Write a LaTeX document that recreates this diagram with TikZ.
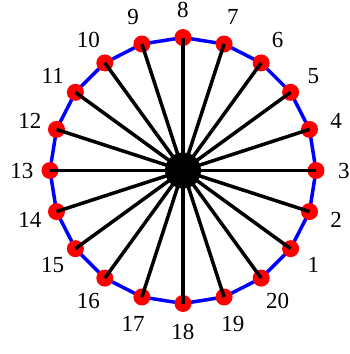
\documentclass[tikz,border=0pt]{standalone}
\usepackage{fontspec}
\setmainfont{Liberation Serif}
\begin{document}
\begin{tikzpicture}[x=1pt,y=1pt,
  vert/.style={circle,fill=red,inner sep=0pt,minimum size=17pt},
  hub/.style={circle,fill=black,inner sep=0pt,minimum size=36pt},
  lbl/.style={font=\fontsize{23}{27}\selectfont,inner sep=0pt}]
  \def\R{133}\def\Rl{161}
  \useasboundingbox (-183,-183.5) rectangle (166,170.5);
  % rim points
  \foreach \k in {1,...,20}{
    \pgfmathsetmacro{\ang}{90-(8-\k)*18}
    \coordinate (p\k) at (\ang:\R);
  }
  \draw[blue,line width=3.5pt,line join=round]
    (p1) \foreach \k in {2,...,20}{-- (p\k)} -- cycle;
  \node[hub] (c) at (0,0) {};
  \foreach \k in {1,...,20}{
    \pgfmathsetmacro{\ang}{90-(8-\k)*18}
    \node[vert] (v\k) at (p\k) {};
    \node[lbl] (l\k) at (\ang:\Rl) {\k};
  }
  % spokes
  \foreach \k in {1,...,20}
    \draw[line width=3.5pt] (c.center) -- (v\k.center);
\end{tikzpicture}
\end{document}
